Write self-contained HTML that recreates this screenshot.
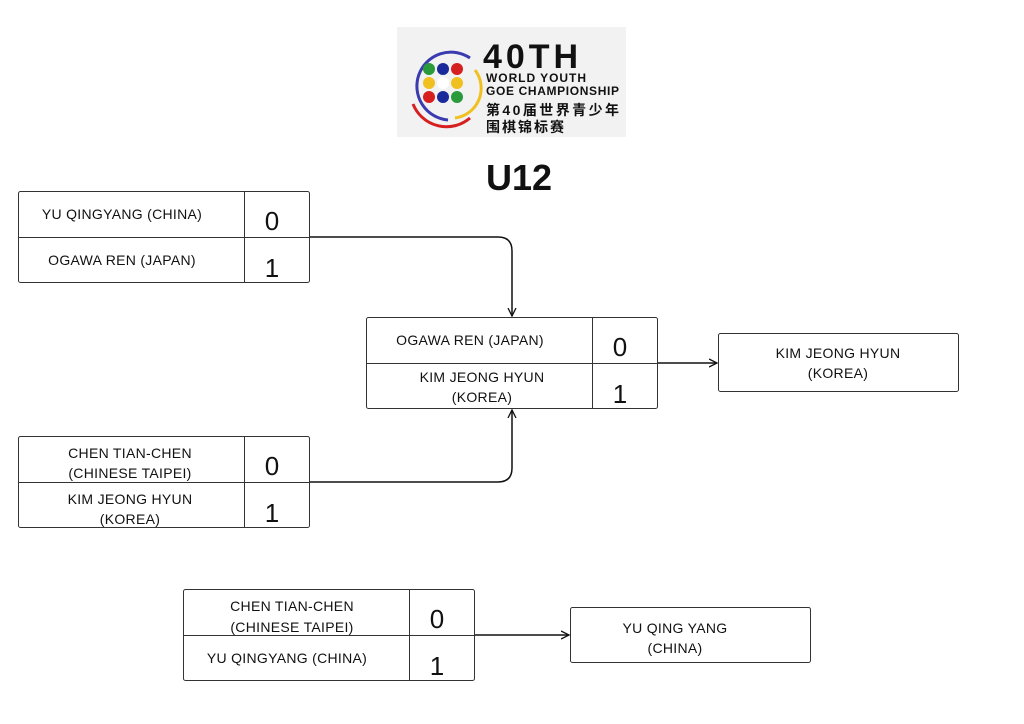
<!DOCTYPE html>
<html><head><meta charset="utf-8"><style>
body{margin:0;background:#fff;width:1024px;height:724px;overflow:hidden}
svg{display:block}
text{font-family:"Liberation Sans","Noto Sans CJK SC",sans-serif;fill:#111}
</style></head><body>
<svg width="1024" height="724" viewBox="0 0 1024 724">
<defs><marker id="ar" markerWidth="10" markerHeight="10" refX="8" refY="5" orient="auto" markerUnits="userSpaceOnUse"><path d="M0,1 L8,5 L0,9" fill="none" stroke="#111" stroke-width="1.3"/></marker></defs>
<!-- logo -->
<rect x="397" y="27" width="229" height="110" fill="#f2f2f2"/>
<path d="M470,58 A34,34 0 1 0 448,120" fill="none" stroke="#3b3bb0" stroke-width="3"/>
<path d="M413,104 A36,36 0 0 0 470,118" fill="none" stroke="#d62020" stroke-width="3"/>
<path d="M475,70 A30,30 0 0 1 455,118" fill="none" stroke="#f0c020" stroke-width="3"/>
<g>
<circle cx="429" cy="69" r="6" fill="#2a9a3a"/><circle cx="443" cy="69" r="6" fill="#1a2a9a"/><circle cx="457" cy="69" r="6" fill="#d62020"/>
<circle cx="429" cy="83" r="6" fill="#f0c020"/><circle cx="443" cy="83" r="6" fill="#fff"/><circle cx="457" cy="83" r="6" fill="#f0c020"/>
<circle cx="429" cy="97" r="6" fill="#d62020"/><circle cx="443" cy="97" r="6" fill="#1a2a9a"/><circle cx="457" cy="97" r="6" fill="#2a9a3a"/>
</g>
<text x="483" y="68" font-size="34" font-weight="bold" textLength="95">40TH</text>
<text x="486" y="82" font-size="12" font-weight="bold" textLength="100">WORLD YOUTH</text>
<text x="486" y="95" font-size="12" font-weight="bold" textLength="133">GOE CHAMPIONSHIP</text>
<text x="486" y="115" font-size="14" font-weight="bold" textLength="133">第40届世界青少年</text>
<text x="486" y="132" font-size="14" font-weight="bold" textLength="78">围棋锦标赛</text>
<text x="519" y="190" font-size="36" font-weight="bold" text-anchor="middle">U12</text>
<g fill="none" stroke="#333" stroke-width="1">
<rect x="18.5" y="191.5" width="291" height="91" rx="2"/><line x1="18" y1="237.5" x2="310" y2="237.5"/><line x1="244.5" y1="191" x2="244.5" y2="283"/>
<rect x="18.5" y="436.5" width="291" height="91" rx="2"/><line x1="18" y1="482.5" x2="310" y2="482.5"/><line x1="244.5" y1="436" x2="244.5" y2="528"/>
<rect x="366.5" y="317.5" width="291" height="91" rx="2"/><line x1="366" y1="363.5" x2="658" y2="363.5"/><line x1="592.5" y1="317" x2="592.5" y2="409"/>
<rect x="183.5" y="589.5" width="291" height="91" rx="2"/><line x1="183" y1="635.5" x2="475" y2="635.5"/><line x1="409.5" y1="589" x2="409.5" y2="681"/>
<rect x="718.5" y="333.5" width="240" height="58" rx="2"/>
<rect x="570.5" y="607.5" width="240" height="55" rx="2"/>
</g>
<g fill="none" stroke="#111" stroke-width="1.5">
<path d="M310,237 H498 Q512,237 512,251 V316" marker-end="url(#ar)"/>
<path d="M310,482 H498 Q512,482 512,468 V410" marker-end="url(#ar)"/>
<path d="M658,363 H717" marker-end="url(#ar)"/>
<path d="M475,635 H569" marker-end="url(#ar)"/>
</g>
<g font-size="14" text-anchor="middle" letter-spacing="0.3">
<text x="122" y="219">YU QINGYANG (CHINA)</text>
<text x="122" y="265">OGAWA REN (JAPAN)</text>
<text x="130" y="458">CHEN TIAN-CHEN</text><text x="130" y="478">(CHINESE TAIPEI)</text>
<text x="130" y="504">KIM JEONG HYUN</text><text x="130" y="524">(KOREA)</text>
<text x="470" y="345">OGAWA REN (JAPAN)</text>
<text x="482" y="382">KIM JEONG HYUN</text><text x="482" y="402">(KOREA)</text>
<text x="292" y="611">CHEN TIAN-CHEN</text><text x="292" y="632">(CHINESE TAIPEI)</text>
<text x="287" y="663">YU QINGYANG (CHINA)</text>
<text x="838" y="358">KIM JEONG HYUN</text><text x="838" y="378">(KOREA)</text>
<text x="675" y="633">YU QING YANG</text><text x="675" y="653">(CHINA)</text>
</g>
<g font-size="26" text-anchor="middle">
<text x="272" y="230">0</text><text x="272" y="277">1</text>
<text x="272" y="475">0</text><text x="272" y="522">1</text>
<text x="620" y="356">0</text><text x="620" y="403">1</text>
<text x="437" y="628">0</text><text x="437" y="675">1</text>
</g>
</svg>
</body></html>
